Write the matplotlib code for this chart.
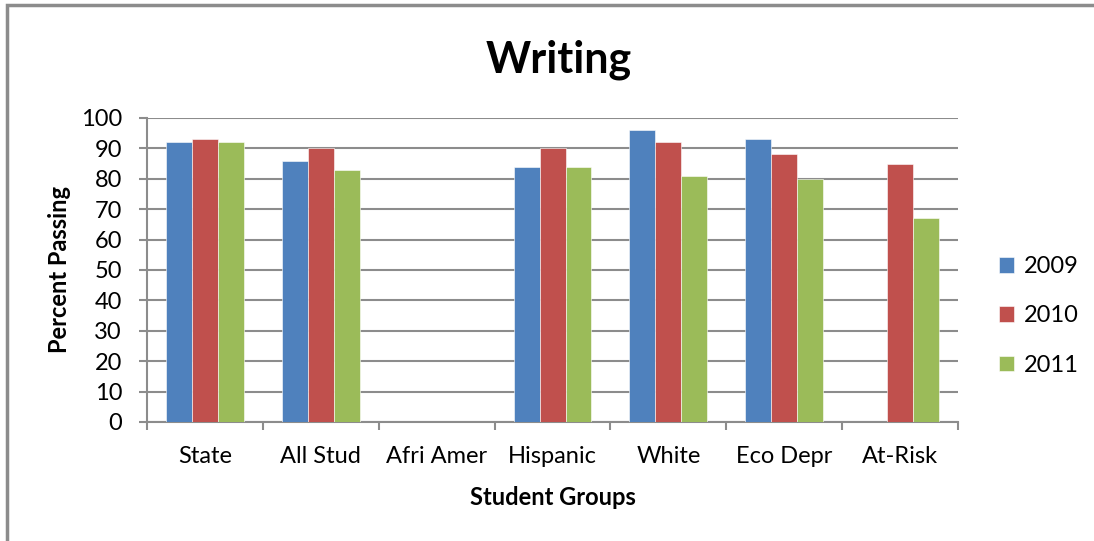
import matplotlib.pyplot as plt
import numpy as np
from matplotlib.patches import Rectangle

plt.rcParams['font.family'] = ['Lato', 'DejaVu Sans']

# data
groups = ['State', 'All Stud', 'Afri Amer', 'Hispanic', 'White', 'Eco Depr', 'At-Risk']
years = ['2009', '2010', '2011']
y2009 = [92, 86, np.nan, 84, 96, 93, np.nan]
y2010 = [93, 90, np.nan, 90, 92, 88, 85]
y2011 = [92, 83, np.nan, 84, 81, 80, 67]
colors = ['#4f81bd', '#c0504d', '#9bbb59']

fig = plt.figure(figsize=(10.94, 5.41), dpi=100)
ax = fig.add_axes([0.1344, 0.220, 0.7413, 0.562])

x = np.arange(len(groups))
w = 0.224
for i, (vals, c, lab) in enumerate(zip([y2009, y2010, y2011], colors, years)):
    ax.bar(x + (i - 1) * w, vals, width=w, color=c, label=lab, zorder=3,
           edgecolor='white', linewidth=0.4)

ax.set_xlim(-0.5, len(groups) - 0.5)
ax.set_ylim(0, 100)
ax.set_yticks(range(0, 101, 10))
ax.yaxis.grid(True, color='#8c8c8c', linewidth=1.5, zorder=0)
ax.set_xticks(x)
ax.set_xticklabels(groups, fontsize=17)
ax.set_xticks(np.arange(-0.5, len(groups), 1), minor=True)
ax.tick_params(axis='x', which='major', length=0, pad=17)
ax.tick_params(axis='x', which='minor', length=6, width=1.5, color='#8c8c8c', direction='out')
ax.tick_params(axis='y', length=6, width=1.5, color='#8c8c8c', labelsize=17, pad=12)

for s in ['top', 'right']:
    ax.spines[s].set_visible(False)
for s in ['left', 'bottom']:
    ax.spines[s].set_color('#8c8c8c')
    ax.spines[s].set_linewidth(1.5)

ax.set_ylabel('Percent Passing', fontsize=17, fontweight='bold', labelpad=7)
ax.set_xlabel('Student Groups', fontsize=17, fontweight='bold', labelpad=14)
fig.text(0.511, 0.89, 'Writing', fontsize=31, fontweight='bold', ha='center', va='center')

leg = fig.legend(loc='center left', bbox_to_anchor=(0.894, 0.416), frameon=False,
                 fontsize=17, handlelength=0.64, handleheight=0.64, labelspacing=1.2,
                 handletextpad=0.4)

fig.patches.append(Rectangle((0.0065, -0.05), 1.05, 1.04, transform=fig.transFigure,
                             fill=False, edgecolor='#8c8c8c', linewidth=2.5))

fig.savefig('out.png', dpi=100)
